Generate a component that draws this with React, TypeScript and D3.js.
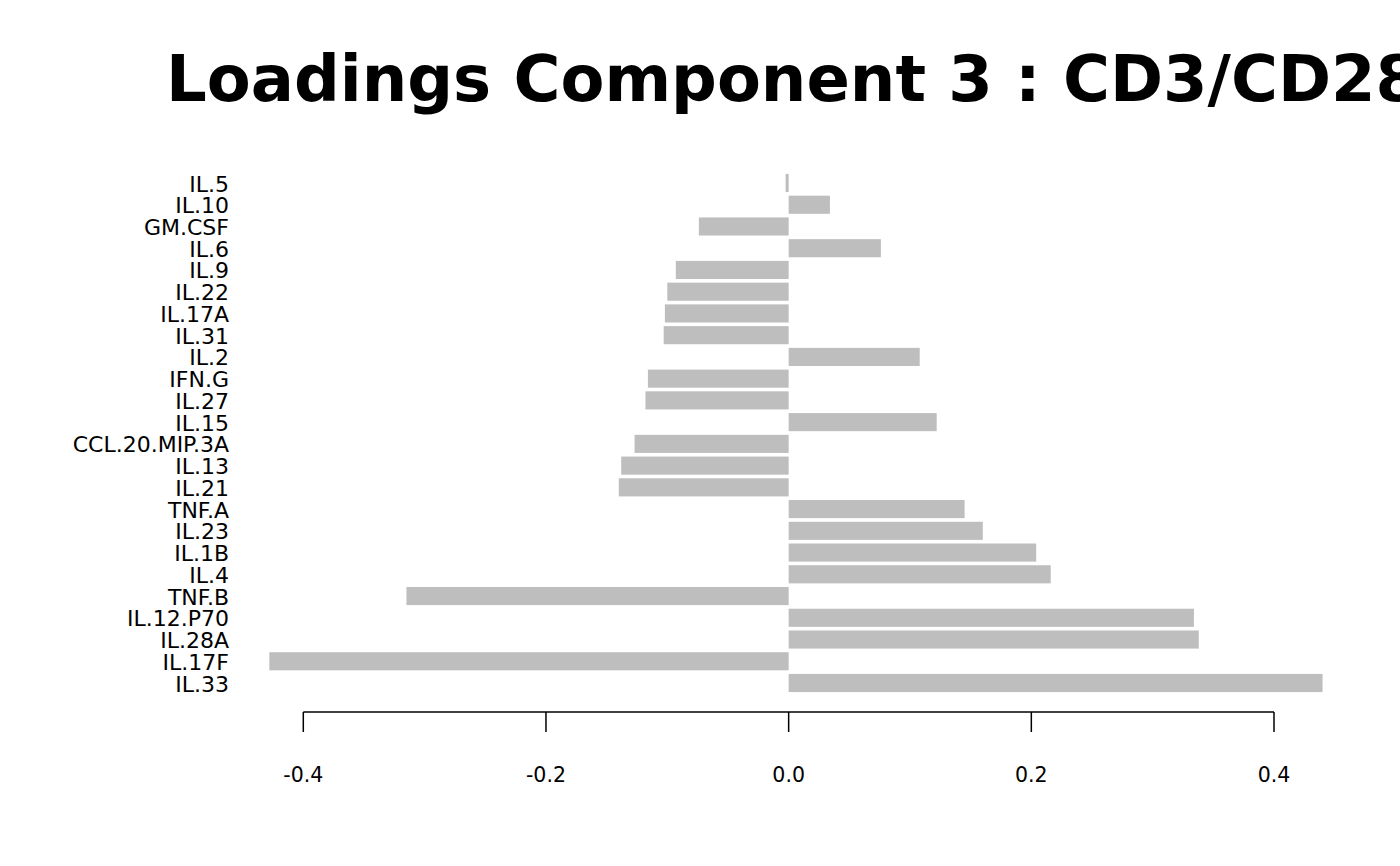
import React from "react";
import * as d3 from "d3";

const cytokines = [
  "IL.5", "IL.10", "GM.CSF", "IL.6", "IL.9", "IL.22", "IL.17A", "IL.31", "IL.2", "IFN.G",
  "IL.27", "IL.15", "CCL.20.MIP.3A", "IL.13", "IL.21", "TNF.A", "IL.23", "IL.1B", "IL.4",
  "TNF.B", "IL.12.P70", "IL.28A", "IL.17F", "IL.33",
];
const loadings = [
  -0.0025, 0.034, -0.074, 0.076, -0.093, -0.1, -0.102, -0.103, 0.108, -0.116,
  -0.118, 0.122, -0.127, -0.138, -0.14, 0.145, 0.16, 0.204, 0.216,
  -0.315, 0.334, 0.338, -0.428, 0.44,
];
const xTicks = [-0.4, -0.2, 0.0, 0.2, 0.4];
const title = "Loadings Component 3 : CD3/CD28 stimulated";

export default function App() {
  const W = 1400, H = 866;
  const x = d3.scaleLinear().domain([-0.4, 0.4]).range([303.3, 1274]);
  const step = (683 - 183) / (cytokines.length - 1);
  const y = d3
    .scaleBand<string>()
    .domain(cytokines)
    .range([183 - step / 2, 683 + step / 2])
    .paddingInner(0.2 / 1.2)
    .paddingOuter(0.1 / 1.2);
  const font = "'DejaVu Sans', sans-serif";
  const axisY = 712;
  const fmt = (t: number) => d3.format(".1f")(t).replace("\u2212", "-");
  return (
    <svg
      width={W}
      height={H}
      style={{ position: "absolute", left: 0, top: 0, background: "#fff" }}
      fontFamily={font}
    >
      <rect x={0} y={0} width={W} height={H} fill="#fff" />
      <text x={166} y={101} fontSize={64} fontWeight="bold" fill="#000">
        {title}
      </text>
      {cytokines.map((c, i) => {
        const v = loadings[i];
        const x0 = x(Math.min(0, v));
        const x1 = x(Math.max(0, v));
        return (
          <g key={c}>
            <rect x={x0} y={y(c)} width={x1 - x0} height={y.bandwidth()} fill="#BEBEBE" />
            <text
              x={229}
              y={(y(c) as number) + y.bandwidth() / 2 + 1}
              fontSize={22}
              textAnchor="end"
              dominantBaseline="central"
              fill="#000"
            >
              {c}
            </text>
          </g>
        );
      })}
      <line x1={x(-0.4)} x2={x(0.4)} y1={axisY} y2={axisY} stroke="#000" strokeWidth={1.5} />
      {xTicks.map((t) => (
        <g key={t}>
          <line x1={x(t)} x2={x(t)} y1={axisY} y2={axisY + 20} stroke="#000" strokeWidth={1.5} />
          <text x={x(t)} y={782} fontSize={20.5} textAnchor="middle" fill="#000">
            {fmt(t)}
          </text>
        </g>
      ))}
    </svg>
  );
}
